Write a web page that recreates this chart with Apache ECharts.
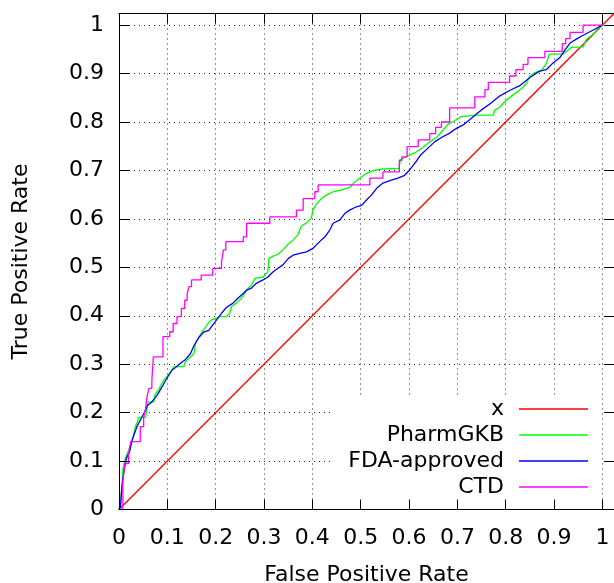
<!DOCTYPE html>
<html>
<head>
<meta charset="utf-8">
<script src="https://cdn.jsdelivr.net/npm/echarts@6/dist/echarts.min.js"></script>
<style>
html,body{margin:0;padding:0;background:#fff;}
#chart{width:614px;height:583px;}
</style>
</head>
<body>
<div id="chart"></div>
<script>
const seriesNames = ['x', 'PharmGKB', 'FDA-approved', 'CTD'];
const seriesColors = ['#ff0000', '#00ff00', '#0000ff', '#ff00ff'];
const axisTitleX = 'False Positive Rate';
const axisTitleY = 'True Positive Rate';

const diagonal = [[0, 0], [1.024, 1.024]];

const pharmgkb = [[0,0],[0.003,0.013],[0.006,0.047],[0.008,0.082],[0.013,0.106],[0.02,0.123],[0.027,0.14],[0.034,0.171],[0.041,0.19],[0.055,0.19],[0.06,0.222],[0.072,0.222],[0.074,0.236],[0.082,0.248],[0.0925,0.267],[0.099,0.274],[0.11,0.289],[0.113,0.295],[0.134,0.295],[0.137,0.305],[0.148,0.315],[0.155,0.322],[0.158,0.343],[0.165,0.355],[0.172,0.367],[0.177,0.374],[0.184,0.384],[0.191,0.391],[0.2015,0.395],[0.208,0.398],[0.222,0.398],[0.229,0.405],[0.233,0.419],[0.243,0.426],[0.253,0.436],[0.26,0.446],[0.267,0.457],[0.274,0.463],[0.281,0.477],[0.284,0.48],[0.298,0.48],[0.308,0.491],[0.31,0.518],[0.319,0.523],[0.329,0.527],[0.339,0.536],[0.35,0.548],[0.36,0.556],[0.37,0.567],[0.377,0.585],[0.388,0.592],[0.398,0.602],[0.401,0.618],[0.408,0.63],[0.419,0.642],[0.429,0.649],[0.443,0.656],[0.457,0.659],[0.477,0.665],[0.488,0.676],[0.498,0.684],[0.512,0.694],[0.526,0.70],[0.546,0.703],[0.579,0.704],[0.582,0.722],[0.598,0.73],[0.615,0.738],[0.629,0.748],[0.643,0.759],[0.658,0.769],[0.67,0.783],[0.68,0.795],[0.693,0.802],[0.707,0.811],[0.74,0.814],[0.774,0.814],[0.777,0.824],[0.788,0.831],[0.801,0.845],[0.815,0.856],[0.833,0.869],[0.843,0.88],[0.85,0.894],[0.86,0.902],[0.874,0.906],[0.884,0.921],[0.89,0.94],[0.918,0.94],[0.936,0.954],[0.96,0.955],[0.967,0.971],[0.981,0.981],[0.99,0.992],[1,1]];

const fdaApproved = [[0,0],[0.003,0.006],[0.006,0.047],[0.0097,0.075],[0.013,0.095],[0.0166,0.109],[0.022,0.119],[0.027,0.143],[0.032,0.157],[0.037,0.171],[0.048,0.192],[0.055,0.205],[0.058,0.214],[0.068,0.222],[0.079,0.236],[0.089,0.253],[0.099,0.271],[0.11,0.288],[0.117,0.293],[0.127,0.302],[0.137,0.309],[0.148,0.322],[0.155,0.338],[0.165,0.355],[0.175,0.366],[0.186,0.37],[0.191,0.377],[0.2015,0.391],[0.212,0.405],[0.222,0.417],[0.236,0.426],[0.246,0.436],[0.257,0.446],[0.264,0.453],[0.274,0.457],[0.284,0.467],[0.298,0.474],[0.308,0.48],[0.319,0.491],[0.329,0.498],[0.339,0.505],[0.35,0.518],[0.36,0.525],[0.374,0.529],[0.388,0.532],[0.401,0.539],[0.415,0.553],[0.426,0.563],[0.436,0.577],[0.443,0.591],[0.457,0.598],[0.467,0.611],[0.477,0.618],[0.491,0.625],[0.502,0.628],[0.512,0.639],[0.522,0.649],[0.533,0.663],[0.546,0.674],[0.56,0.679],[0.577,0.684],[0.591,0.69],[0.602,0.702],[0.613,0.716],[0.624,0.732],[0.638,0.745],[0.653,0.759],[0.667,0.768],[0.684,0.777],[0.698,0.787],[0.712,0.794],[0.726,0.805],[0.74,0.817],[0.75,0.825],[0.767,0.837],[0.788,0.854],[0.808,0.865],[0.829,0.875],[0.85,0.892],[0.87,0.905],[0.884,0.908],[0.898,0.922],[0.912,0.933],[0.922,0.948],[0.933,0.963],[0.946,0.971],[0.96,0.979],[0.981,0.99],[1,1]];

const ctd = [[0,0],[0.008,0.06],[0.012,0.095],[0.02,0.116],[0.024,0.14],[0.044,0.171],[0.051,0.19],[0.055,0.209],[0.058,0.233],[0.062,0.25],[0.068,0.267],[0.071,0.315],[0.091,0.357],[0.105,0.367],[0.112,0.384],[0.12,0.398],[0.129,0.415],[0.136,0.432],[0.141,0.446],[0.145,0.46],[0.15,0.474],[0.17,0.484],[0.194,0.498],[0.212,0.511],[0.216,0.536],[0.221,0.553],[0.257,0.563],[0.264,0.591],[0.312,0.604],[0.367,0.618],[0.381,0.642],[0.405,0.656],[0.412,0.67],[0.519,0.684],[0.546,0.697],[0.58,0.721],[0.585,0.728],[0.596,0.749],[0.619,0.763],[0.643,0.776],[0.655,0.789],[0.667,0.80],[0.684,0.829],[0.736,0.852],[0.757,0.867],[0.764,0.882],[0.808,0.895],[0.821,0.908],[0.836,0.919],[0.846,0.933],[0.881,0.946],[0.917,0.962],[0.924,0.972],[0.933,0.985],[0.96,1.0],[1.0,1.0]];

const FONT = 'DejaVu Sans';
const AXMAX = 1.024;

function tickFmt(v) {
  const t = v * 10;
  if (Math.abs(t - Math.round(t)) > 1e-6 || v > 1.0001) return '';
  return String(Math.round(t) / 10);
}

const chart = echarts.init(document.getElementById('chart'), null, {renderer: 'canvas'});

const gridLine = {show: true, lineStyle: {color: '#222', width: 1, type: [1, 4]}};

const option = {
  backgroundColor: '#fff',
  animation: false,
  grid: {left: 119, top: 13.5, width: 495, height: 496, containLabel: false, outerBoundsMode: 'none'},
  xAxis: [
    {
      type: 'value', position: 'bottom', min: 0, max: AXMAX, interval: 0.1, z: 3,
      axisLine: {show: true, onZero: false, lineStyle: {color: '#000', width: 1}},
      axisTick: {show: true, inside: true, length: 10, lineStyle: {color: '#000'}},
      axisLabel: {show: true, margin: 18, fontSize: 22, fontFamily: FONT, color: '#000', formatter: tickFmt, showMaxLabel: false},
      splitLine: {show: false},
      name: axisTitleX, nameLocation: 'middle', nameGap: 55,
      nameTextStyle: {fontSize: 22, fontFamily: FONT, color: '#000'}
    },
    {
      type: 'value', position: 'top', min: 0, max: AXMAX, interval: 0.1, z: 0,
      axisLine: {show: true, onZero: false, lineStyle: {color: '#000', width: 1}},
      axisTick: {show: true, inside: true, length: 10, lineStyle: {color: '#000'}},
      axisLabel: {show: false},
      splitLine: gridLine
    }
  ],
  yAxis: [
    {
      type: 'value', position: 'left', min: 0, max: AXMAX, interval: 0.1, z: 3,
      axisLine: {show: true, onZero: false, lineStyle: {color: '#000', width: 1}},
      axisTick: {show: true, inside: true, length: 10, lineStyle: {color: '#000'}},
      axisLabel: {show: true, margin: 15, fontSize: 22, fontFamily: FONT, color: '#000', formatter: tickFmt, showMaxLabel: false},
      splitLine: {show: false},
      name: axisTitleY, nameLocation: 'middle', nameGap: 87,
      nameTextStyle: {fontSize: 22, fontFamily: FONT, color: '#000'}
    },
    {
      type: 'value', position: 'right', min: 0, max: AXMAX, interval: 0.1, z: 0,
      axisLine: {show: true, onZero: false, lineStyle: {color: '#000', width: 1}},
      axisTick: {show: true, inside: true, length: 10, lineStyle: {color: '#000'}},
      axisLabel: {show: false},
      splitLine: gridLine
    }
  ],
  legend: {
    orient: 'vertical', right: 26, top: 398, align: 'right', padding: 0,
    itemWidth: 69, itemHeight: 1.5, itemGap: 4, icon: 'rect',
    data: seriesNames,
    textStyle: {fontSize: 22, fontFamily: FONT, color: '#000', padding: [0, 10, 0, 0]}
  },
  graphic: [
    {type: 'rect', z: 1, silent: true, shape: {x: 332, y: 395, width: 268, height: 114}, style: {fill: '#fff'}}
  ],
  series: [
    {name: seriesNames[0], data: diagonal},
    {name: seriesNames[1], data: pharmgkb},
    {name: seriesNames[2], data: fdaApproved},
    {name: seriesNames[3], data: ctd, step: 'end'}
  ].map((s, i) => Object.assign({
    type: 'line', xAxisIndex: 0, yAxisIndex: 0, symbol: 'none', showSymbol: false,
    clip: true, z: 2,
    color: seriesColors[i],
    itemStyle: {color: seriesColors[i]},
    lineStyle: {color: seriesColors[i], width: 1.3}
  }, s))
};

chart.setOption(option);
</script>
</body>
</html>
